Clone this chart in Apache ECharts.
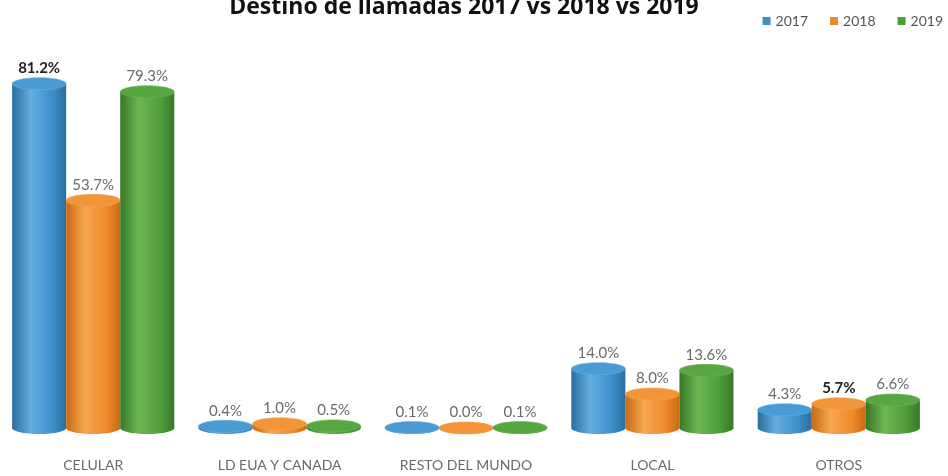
<!DOCTYPE html>
<html>
<head>
<meta charset="utf-8">
<script src="https://cdn.jsdelivr.net/npm/echarts@6/dist/echarts.min.js"></script>
<style>
  html, body { margin: 0; padding: 0; background: #fff; }
  #chart { width: 948px; height: 476px; }
</style>
</head>
<body>
<div id="chart"></div>
<script>
// Call destinations, share of calls (%) per year
const categories = ['CELULAR', 'LD EUA Y CANADA', 'RESTO DEL MUNDO', 'LOCAL', 'OTROS'];
const years = ['2017', '2018', '2019'];
const values2017 = [81.2, 0.4, 0.1, 14.0, 4.3];
const values2018 = [53.7, 1.0, 0.0, 8.0, 5.7];
const values2019 = [79.3, 0.5, 0.1, 13.6, 6.6];

const seriesValues = [values2017, values2018, values2019];
const titleText = 'Destino de llamadas 2017 vs 2018 vs 2019';

// Palette: base, dark edge, highlight, top cap
const palettes = [
  { base: '#3d8fca', dark: '#2a6e9f', light: '#63aee0', cap: '#4a9bd3' },
  { base: '#ef8a2c', dark: '#c96a14', light: '#f8a650', cap: '#f29438' },
  { base: '#4e9c3a', dark: '#387826', light: '#6cb752', cap: '#58a642' }
];

const FONT = 'Lato, "Open Sans", sans-serif';
const BAR_RATIO = 0.29;   // share of the category band used by one cylinder
const CAP_RY = 6;         // half height of the elliptical caps

function cylinder(seriesIdx) {
  const pal = palettes[seriesIdx];
  return function (params, api) {
    const cat = api.value(0);
    const val = api.value(1);
    const top = api.coord([cat, val]);
    const base = api.coord([cat, 0]);
    const band = api.size([1, 0])[0];
    const w = band * BAR_RATIO;
    const cx = top[0] + (seriesIdx - 1) * w;
    const x0 = cx - w / 2;
    const bodyFill = {
      type: 'linear', x: 0, y: 0, x2: 1, y2: 0,
      colorStops: [
        { offset: 0, color: pal.dark },
        { offset: 0.35, color: pal.light },
        { offset: 0.75, color: pal.base },
        { offset: 1, color: pal.dark }
      ]
    };
    const isDark = (seriesIdx === 0 && cat === 0) || (seriesIdx === 1 && cat === 4);
    return {
      type: 'group',
      children: [
        { type: 'ellipse', shape: { cx: cx, cy: base[1], rx: w / 2, ry: CAP_RY }, style: { fill: bodyFill } },
        { type: 'rect', shape: { x: x0, y: top[1], width: w, height: Math.max(0, base[1] - top[1]) }, style: { fill: bodyFill } },
        { type: 'ellipse', shape: { cx: cx, cy: top[1], rx: w / 2, ry: CAP_RY }, style: { fill: pal.cap, stroke: pal.light, lineWidth: 0.6 } },
        {
          type: 'text',
          x: cx, y: top[1] - CAP_RY - 2,
          style: {
            text: val.toFixed(1) + '%',
            fill: isDark ? '#222' : '#6a6a6a',
            fontFamily: FONT,
            fontSize: 15,
            fontWeight: isDark ? 'bold' : 'normal',
            align: 'center',
            verticalAlign: 'bottom'
          }
        }
      ]
    };
  };
}

const chart = echarts.init(document.getElementById('chart'), null, { renderer: 'canvas' });

chart.setOption({
  backgroundColor: '#ffffff',
  animation: false,
  color: palettes.map(p => p.base),
  graphic: [{
    type: 'text',
    x: 464,
    y: 19,
    style: {
      text: titleText,
      fill: '#111',
      fontFamily: '"Open Sans", Lato, sans-serif',
      fontSize: 23,
      fontWeight: 'bold',
      align: 'center',
      verticalAlign: 'bottom'
    }
  }],
  legend: {
    right: 0,
    top: 9,
    itemWidth: 8,
    itemHeight: 8,
    itemGap: 22,
    icon: 'rect',
    textStyle: { fontFamily: FONT, fontSize: 14, color: '#555' },
    data: years
  },
  grid: { left: 0, right: 16, top: 4, bottom: 48 },
  xAxis: {
    type: 'category',
    data: categories,
    axisLine: { show: false },
    axisTick: { show: false },
    axisLabel: { margin: 30, color: '#6a6a6a', fontSize: 14, fontFamily: FONT }
  },
  yAxis: { type: 'value', min: 0, max: 100, show: false },
  series: years.map((y, i) => ({
    name: y,
    type: 'custom',
    clip: false,
    renderItem: cylinder(i),
    encode: { x: 0, y: 1 },
    data: seriesValues[i].map((v, k) => [k, v])
  }))
});
</script>
</body>
</html>
